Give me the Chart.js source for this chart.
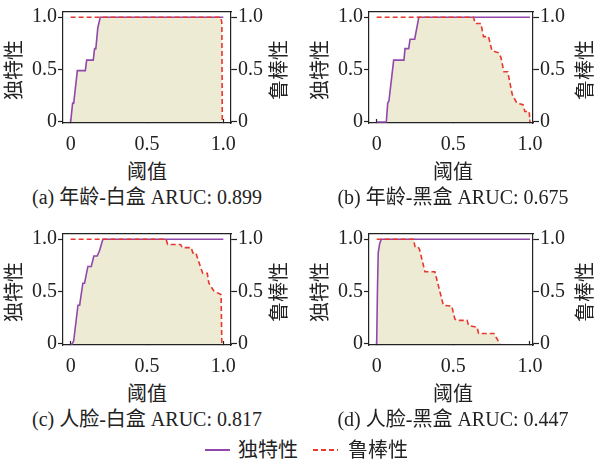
<!DOCTYPE html>
<html>
<head>
<meta charset="utf-8">
<script src="https://cdn.jsdelivr.net/npm/chart.js@4.4.0/dist/chart.umd.min.js"></script>
<style>
html, body { margin:0; padding:0; background:#fff; overflow:hidden; }
body { width:594px; height:462px; position:relative; font-family:"Liberation Serif","Noto Sans CJK SC",serif; color:#222; }
canvas { position:absolute; }
.t { position:absolute; transform:translate(-50%,-50%); white-space:nowrap; font-size:20px; line-height:1; }
.v { transform:translate(-50%,-50%) rotate(-90deg); }
.key { position:absolute; width:25px; height:1.6px; }
</style>
</head>
<body>
<script>
// thresholds / values
const uniqThrA = [0, 0.013, 0.02, 0.044, 0.096, 0.105, 0.148, 0.157, 0.165, 0.178, 0.194, 1.0];
const uniqValA = [0, 0.18, 0.18, 0.49, 0.49, 0.59, 0.59, 0.70, 0.70, 0.90, 1.0, 1.0];
const robThrA  = [0, 0.983, 0.99, 0.993];
const robValA  = [1, 1, 0.95, 0];

const uniqThrB = [0, 0.063, 0.072, 0.08, 0.111, 0.178, 0.185, 0.209, 0.218, 0.248, 0.275, 1.0];
const uniqValB = [0, 0, 0.18, 0.2, 0.59, 0.59, 0.70, 0.70, 0.79, 0.79, 1.0, 1.0];
const robThrB  = [0, 0.632, 0.643, 0.68, 0.697, 0.73, 0.752, 0.795, 0.81, 0.83, 0.855, 0.885, 0.915, 0.955, 0.967, 0.995, 1.0];
const robValB  = [1, 1, 0.94, 0.94, 0.815, 0.815, 0.68, 0.66, 0.62, 0.48, 0.48, 0.26, 0.18, 0.165, 0.10, 0.10, 0];

const uniqThrC = [0, 0.01, 0.02, 0.048, 0.059, 0.08, 0.091, 0.113, 0.135, 0.152, 0.174, 0.189, 0.211, 1.0];
const uniqValC = [0, 0, 0.03, 0.37, 0.37, 0.58, 0.58, 0.74, 0.74, 0.84, 0.84, 0.89, 1.0, 1.0];
const robThrC  = [0, 0.625, 0.635, 0.72, 0.73, 0.79, 0.80, 0.82, 0.835, 0.865, 0.895, 0.905, 0.94, 0.975, 0.985, 0.99];
const robValC  = [1, 1, 0.95, 0.95, 0.92, 0.92, 0.87, 0.87, 0.80, 0.675, 0.675, 0.58, 0.50, 0.48, 0.47, 0];

const uniqThrD = [0, 0.005, 0.01, 0.02, 0.03, 1.0];
const uniqValD = [0, 0.5, 0.87, 0.96, 1.0, 1.0];
const robThrD  = [0, 0.24, 0.25, 0.27, 0.28, 0.315, 0.38, 0.39, 0.435, 0.49, 0.51, 0.52, 0.59, 0.60, 0.655, 0.665, 0.765, 0.805];
const robValD  = [1, 1, 0.93, 0.93, 0.90, 0.69, 0.69, 0.63, 0.37, 0.36, 0.24, 0.225, 0.225, 0.175, 0.16, 0.10, 0.10, 0];

const tickVals = [0, 0.5, 1];
const captions = ["(a) 年龄-白盒 ARUC: 0.899", "(b) 年龄-黑盒 ARUC: 0.675",
                  "(c) 人脸-白盒 ARUC: 0.817", "(d) 人脸-黑盒 ARUC: 0.447"];
const xTitle = "阈值";
const uniqName = "独特性";
const robName = "鲁棒性";

const PURPLE = "#9148aa";
const RED = "#e8372c";
const BEIGE = "#edebd4";
const FRAME = "#222";

const panels = [
    {ux: uniqThrA, uy: uniqValA, rx: robThrA, ry: robValA, ox: 0,   oy: 0,   w: 297, rightW: 66, xMax: 1.05},
    {ux: uniqThrB, uy: uniqValB, rx: robThrB, ry: robValB, ox: 306, oy: 0,   w: 288, rightW: 61, xMax: 1.02},
    {ux: uniqThrC, uy: uniqValC, rx: robThrC, ry: robValC, ox: 0,   oy: 222, w: 297, rightW: 66, xMax: 1.05},
    {ux: uniqThrD, uy: uniqValD, rx: robThrD, ry: robValD, ox: 306, oy: 222, w: 288, rightW: 61, xMax: 1.02}
];

const H = 150;
const PLOT_BOTTOM = 123;

function zip(xs, ys){
    return xs.map((x, i) => ({x: x, y: ys[i]}));
}

// area under both curves: uniqueness rises to 1 before robustness drops
function underBoth(ux, uy, rx, ry){
    const pts = [];
    for (let i = 0; i < ux.length; i++) {
        pts.push({x: ux[i], y: uy[i]});
        if (uy[i] >= 1) break;
    }
    let start = 0;
    for (let j = 0; j < ry.length; j++) {
        if (ry[j] >= 1) start = j;
    }
    for (let j = start; j < rx.length; j++) {
        pts.push({x: rx[j], y: ry[j]});
    }
    return pts;
}

function setTicks(scale){
    scale.ticks = tickVals.map(v => ({value: v}));
}

function fmt(v){
    return v === 0 ? "0" : v.toFixed(1);
}

function addText(txt, x, y, cls){
    const d = document.createElement("div");
    d.className = "t" + (cls ? " " + cls : "");
    d.textContent = txt;
    d.style.left = x + "px";
    d.style.top = y + "px";
    document.body.appendChild(d);
}

Chart.defaults.font.family = "'Liberation Serif', 'Noto Sans CJK SC', serif";
Chart.defaults.font.size = 20;
Chart.defaults.color = "#222";

panels.forEach((p, k) => {

    const cv = document.createElement("canvas");
    cv.width = p.w;
    cv.height = H;
    cv.style.left = p.ox + "px";
    cv.style.top = p.oy + "px";
    cv.style.width = p.w + "px";
    cv.style.height = H + "px";
    document.body.appendChild(cv);

    const yAxis = (pos, width, tl) => ({
        type: "linear",
        position: pos,
        min: -0.01,
        max: 1.05,
        afterBuildTicks: setTicks,
        afterFit: s => { s.width = width; s.paddingTop = 0; s.paddingBottom = 0; },
        ticks: {callback: fmt, padding: 1},
        grid: {drawOnChartArea: false, tickLength: tl, tickColor: FRAME, tickWidth: 1.2},
        border: {color: FRAME, width: 1.2}
    });

    new Chart(cv, {
        type: "line",
        data: {
            datasets: [
                {
                    label: robName,
                    data: zip(p.rx, p.ry),
                    borderColor: RED,
                    borderWidth: 1.6,
                    borderDash: [5, 3],
                    pointRadius: 0,
                    fill: false,
                    order: 0
                },
                {
                    label: uniqName,
                    data: zip(p.ux, p.uy),
                    borderColor: PURPLE,
                    borderWidth: 1.6,
                    pointRadius: 0,
                    fill: false,
                    order: 1
                },
                {
                    data: underBoth(p.ux, p.uy, p.rx, p.ry),
                    borderWidth: 0,
                    borderColor: "rgba(0,0,0,0)",
                    backgroundColor: BEIGE,
                    pointRadius: 0,
                    fill: "origin",
                    order: 2
                }
            ]
        },
        options: {
            responsive: false,
            animation: false,
            devicePixelRatio: 1,
            layout: {padding: {top: 12, left: 0, right: 0, bottom: 0}},
            plugins: {legend: {display: false}, tooltip: {enabled: false}},
            scales: {
                x: {
                    type: "linear",
                    position: "bottom",
                    min: -0.05,
                    max: p.xMax,
                    afterBuildTicks: setTicks,
                    afterFit: s => { s.height = H - PLOT_BOTTOM; s.paddingLeft = 0; s.paddingRight = 0; },
                    ticks: {callback: fmt, padding: 14, maxRotation: 0, autoSkip: false},
                    grid: {drawOnChartArea: false, tickLength: -4, tickColor: FRAME, tickWidth: 1.2},
                    border: {color: FRAME, width: 1.2}
                },
                xTop: {
                    type: "linear",
                    position: "top",
                    min: -0.05,
                    max: p.xMax,
                    afterFit: s => { s.height = 0; s.paddingLeft = 0; s.paddingRight = 0; },
                    ticks: {display: false},
                    grid: {display: false},
                    border: {color: FRAME, width: 1.2}
                },
                y: yAxis("left", 63, 5),
                y2: yAxis("right", p.rightW, 6)
            }
        }
    });

    addText(uniqName, p.ox + 14, p.oy + 70, "v");
    addText(robName, p.ox + 279, p.oy + 70, "v");
    addText(xTitle, p.ox + 147, p.oy + 172);
    addText(captions[k], p.ox + 147, p.oy + 197);
});

// legend
const keyU = document.createElement("div");
keyU.className = "key";
keyU.style.cssText = "left:205px;top:449px;background:" + PURPLE;
document.body.appendChild(keyU);
addText(uniqName, 268, 450);

const keyR = document.createElement("div");
keyR.className = "key";
keyR.style.cssText = "left:313px;top:449px;background:repeating-linear-gradient(to right," +
    RED + " 0 5px, transparent 5px 8px)";
document.body.appendChild(keyR);
addText(robName, 378, 450);
</script>
</body>
</html>
